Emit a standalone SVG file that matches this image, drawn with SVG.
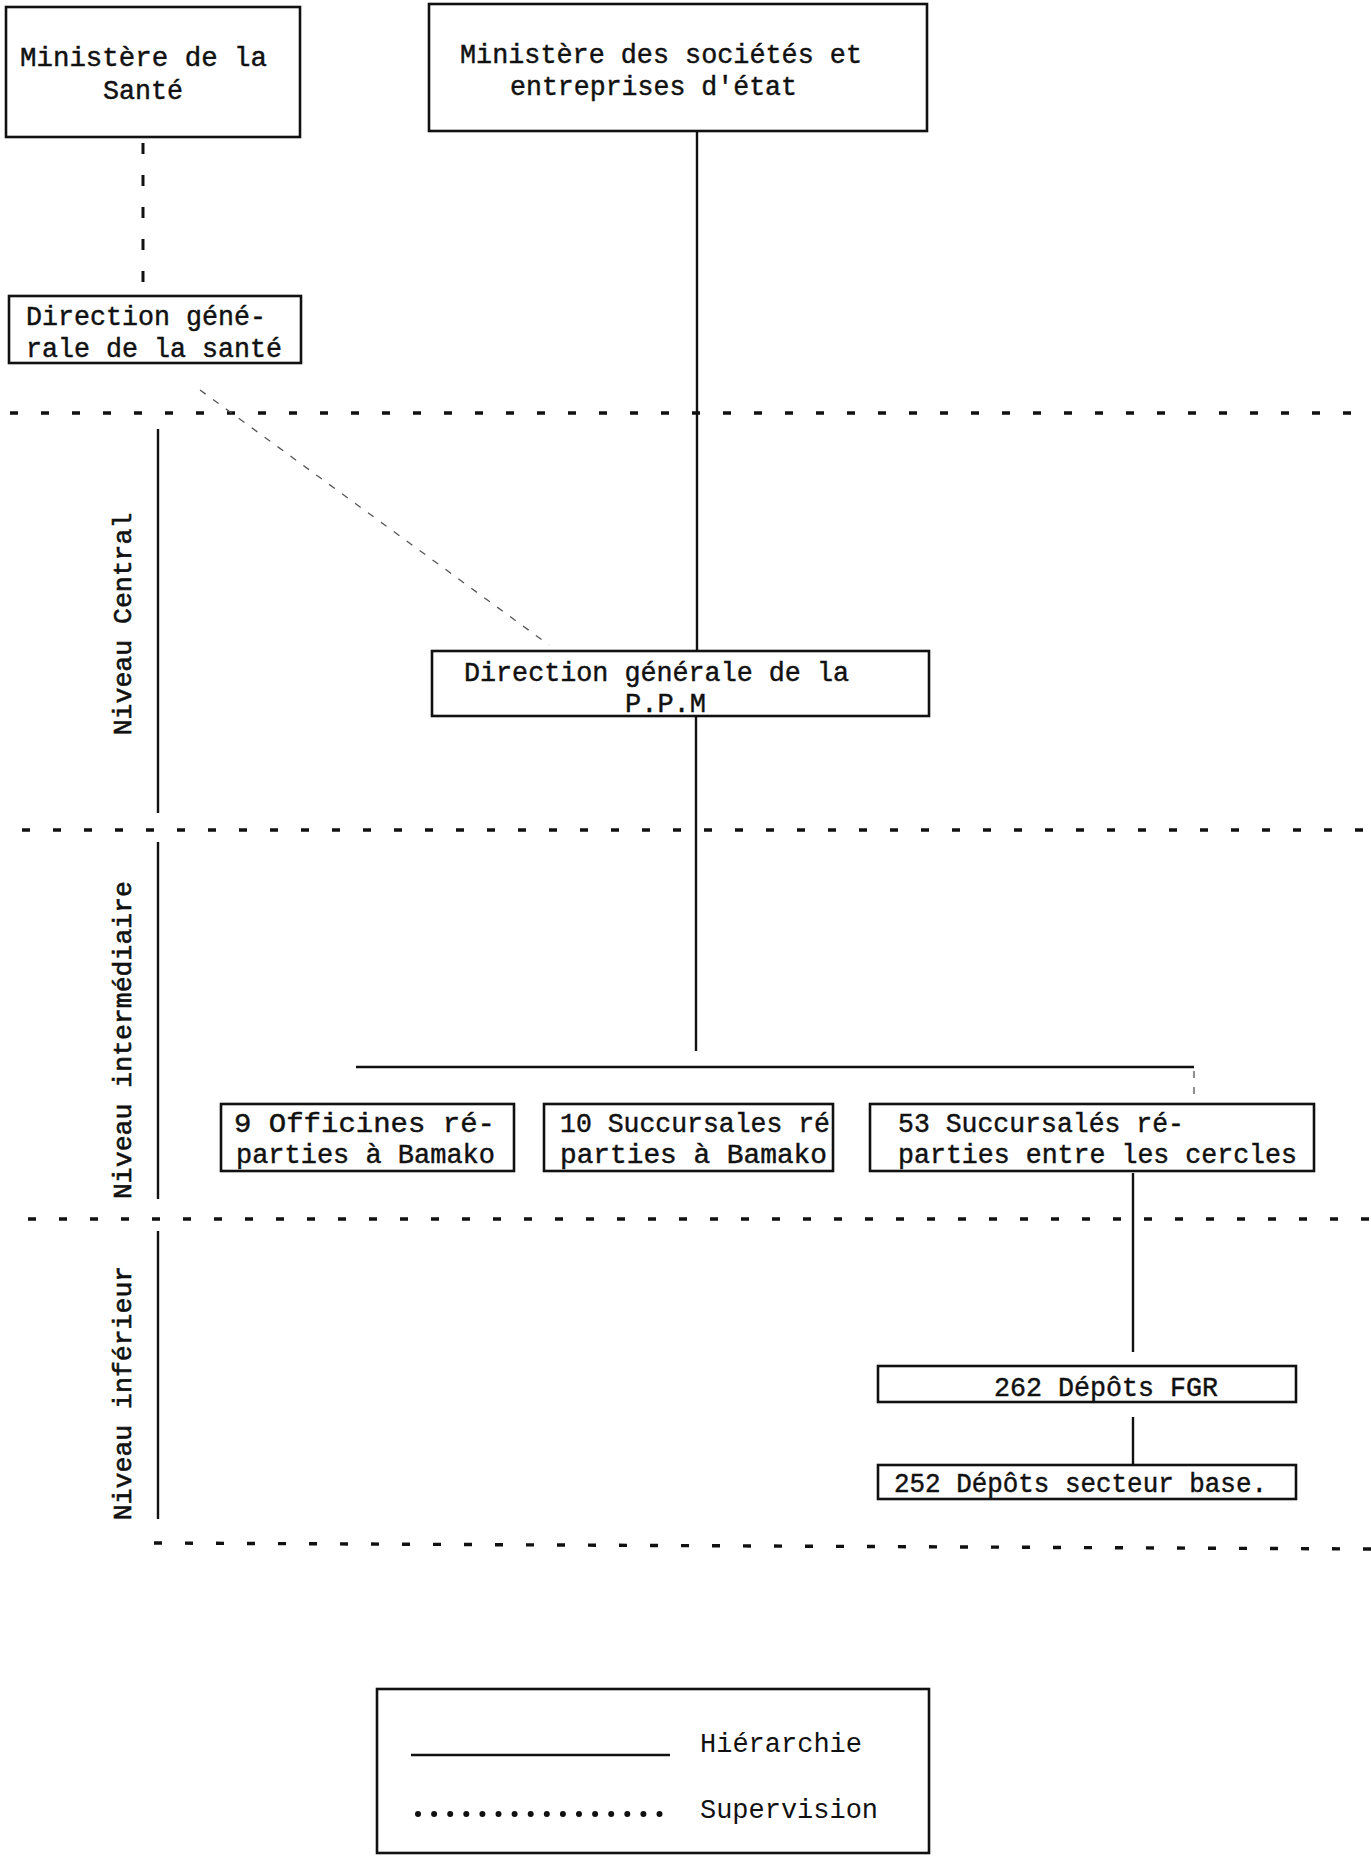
<svg xmlns="http://www.w3.org/2000/svg" width="1371" height="1860" viewBox="0 0 1371 1860">
<style>
.box{fill:#fff;stroke:#111;stroke-width:2.6}
.t{font-family:"Liberation Mono","DejaVu Sans Mono",monospace;font-size:27px;fill:#111;stroke:#111;stroke-width:0.45}
.lg{font-family:"Liberation Mono","DejaVu Sans Mono",monospace;font-size:27px;fill:#111}
.lvl{font-family:"Liberation Mono","DejaVu Sans Mono",monospace;font-size:26.5px;fill:#111;stroke:#111;stroke-width:0.6;text-anchor:middle}
.solid{stroke:#111;stroke-width:2.4;fill:none}
.levelline{stroke:#111;stroke-width:3.4;stroke-dasharray:8 23;fill:none}
.sup{stroke:#111;stroke-width:3;stroke-dasharray:11 21;fill:none}
.supfaint{stroke:#555;stroke-width:1.3;stroke-dasharray:7 9;fill:none}
</style>
<rect width="1371" height="1860" fill="#fff"/>

<g id="levels">
<line class="levelline" x1="10" y1="413" x2="1371" y2="413"/>
<line class="levelline" x1="22" y1="830" x2="1371" y2="830"/>
<line class="levelline" x1="28" y1="1219" x2="1371" y2="1219"/>
<line class="levelline" x1="154" y1="1543" x2="1371" y2="1549"/>
<line class="solid" x1="158" y1="429" x2="158" y2="813"/>
<line class="solid" x1="158" y1="842" x2="158" y2="1199"/>
<line class="solid" x1="158" y1="1231" x2="158" y2="1519"/>
<text class="lvl" transform="translate(131,624) rotate(-90)">Niveau Central</text>
<text class="lvl" transform="translate(131,1040) rotate(-90)">Niveau intermédiaire</text>
<text class="lvl" transform="translate(131,1393) rotate(-90)">Niveau inférieur</text>
</g>

<g id="connectors">
<line class="sup" x1="143" y1="143" x2="143" y2="284"/>
<line class="supfaint" x1="200" y1="390" x2="549" y2="645"/>
<line class="solid" x1="697" y1="130" x2="697" y2="650"/>
<line class="solid" x1="696" y1="716" x2="696" y2="1051"/>
<line class="solid" x1="356" y1="1067" x2="1194" y2="1067"/>
<line class="supfaint" x1="1194" y1="1071" x2="1194" y2="1097"/>
<line class="solid" x1="1133" y1="1173" x2="1133" y2="1352"/>
<line class="solid" x1="1133" y1="1417" x2="1133" y2="1464"/>
</g>

<g id="ministere-sante">
<rect class="box" x="6" y="7" width="294" height="130"/>
<text class="t" x="20" y="66" textLength="247" lengthAdjust="spacingAndGlyphs">Ministère de la</text>
<text class="t" x="103" y="99" textLength="80" lengthAdjust="spacingAndGlyphs">Santé</text>
</g>

<g id="ministere-societes">
<rect class="box" x="429" y="4" width="498" height="127"/>
<text class="t" x="460" y="63" textLength="402" lengthAdjust="spacingAndGlyphs">Ministère des sociétés et</text>
<text class="t" x="510" y="95" textLength="287" lengthAdjust="spacingAndGlyphs">entreprises d'état</text>
</g>

<g id="dg-sante">
<rect class="box" x="9" y="296" width="292" height="67"/>
<text class="t" x="26" y="325" textLength="240" lengthAdjust="spacingAndGlyphs">Direction géné-</text>
<text class="t" x="26" y="357" textLength="256" lengthAdjust="spacingAndGlyphs">rale de la santé</text>
</g>

<g id="dg-ppm">
<rect class="box" x="432" y="651" width="497" height="65"/>
<text class="t" x="464" y="681" textLength="385" lengthAdjust="spacingAndGlyphs">Direction générale de la</text>
<text class="t" x="625" y="712" textLength="81" lengthAdjust="spacingAndGlyphs">P.P.M</text>
</g>

<g id="officines">
<rect class="box" x="221" y="1104" width="293" height="67"/>
<text class="t" x="234" y="1132" textLength="261" lengthAdjust="spacingAndGlyphs">9 Officines ré-</text>
<text class="t" x="236" y="1163" textLength="259" lengthAdjust="spacingAndGlyphs">parties à Bamako</text>
</g>

<g id="succ-bamako">
<rect class="box" x="544" y="1104" width="289" height="67"/>
<text class="t" x="560" y="1132" textLength="270" lengthAdjust="spacingAndGlyphs">10 Succursales ré</text>
<text class="t" x="560" y="1163" textLength="267" lengthAdjust="spacingAndGlyphs">parties à Bamako</text>
</g>

<g id="succ-cercles">
<rect class="box" x="870" y="1104" width="444" height="67"/>
<text class="t" x="898" y="1132" textLength="286" lengthAdjust="spacingAndGlyphs">53 Succursalés ré-</text>
<text class="t" x="898" y="1163" textLength="399" lengthAdjust="spacingAndGlyphs">parties entre les cercles</text>
</g>

<g id="depots-fgr">
<rect class="box" x="878" y="1366" width="418" height="36"/>
<text class="t" x="994" y="1396" textLength="224" lengthAdjust="spacingAndGlyphs">262 Dépôts FGR</text>
</g>

<g id="depots-base">
<rect class="box" x="878" y="1465" width="418" height="34"/>
<text class="t" x="894" y="1492" textLength="373" lengthAdjust="spacingAndGlyphs">252 Dépôts secteur base.</text>
</g>

<g id="legend">
<rect class="box" x="377" y="1689" width="552" height="164"/>
<line class="solid" x1="411" y1="1755" x2="670" y2="1755"/>
<text class="lg" x="700" y="1752" textLength="162" lengthAdjust="spacingAndGlyphs">Hiérarchie</text>
<line x1="418" y1="1814" x2="660" y2="1814" stroke="#111" stroke-width="6" stroke-linecap="round" stroke-dasharray="0 16.1"/>
<text class="lg" x="700" y="1818" textLength="178" lengthAdjust="spacingAndGlyphs">Supervision</text>
</g>
</svg>
